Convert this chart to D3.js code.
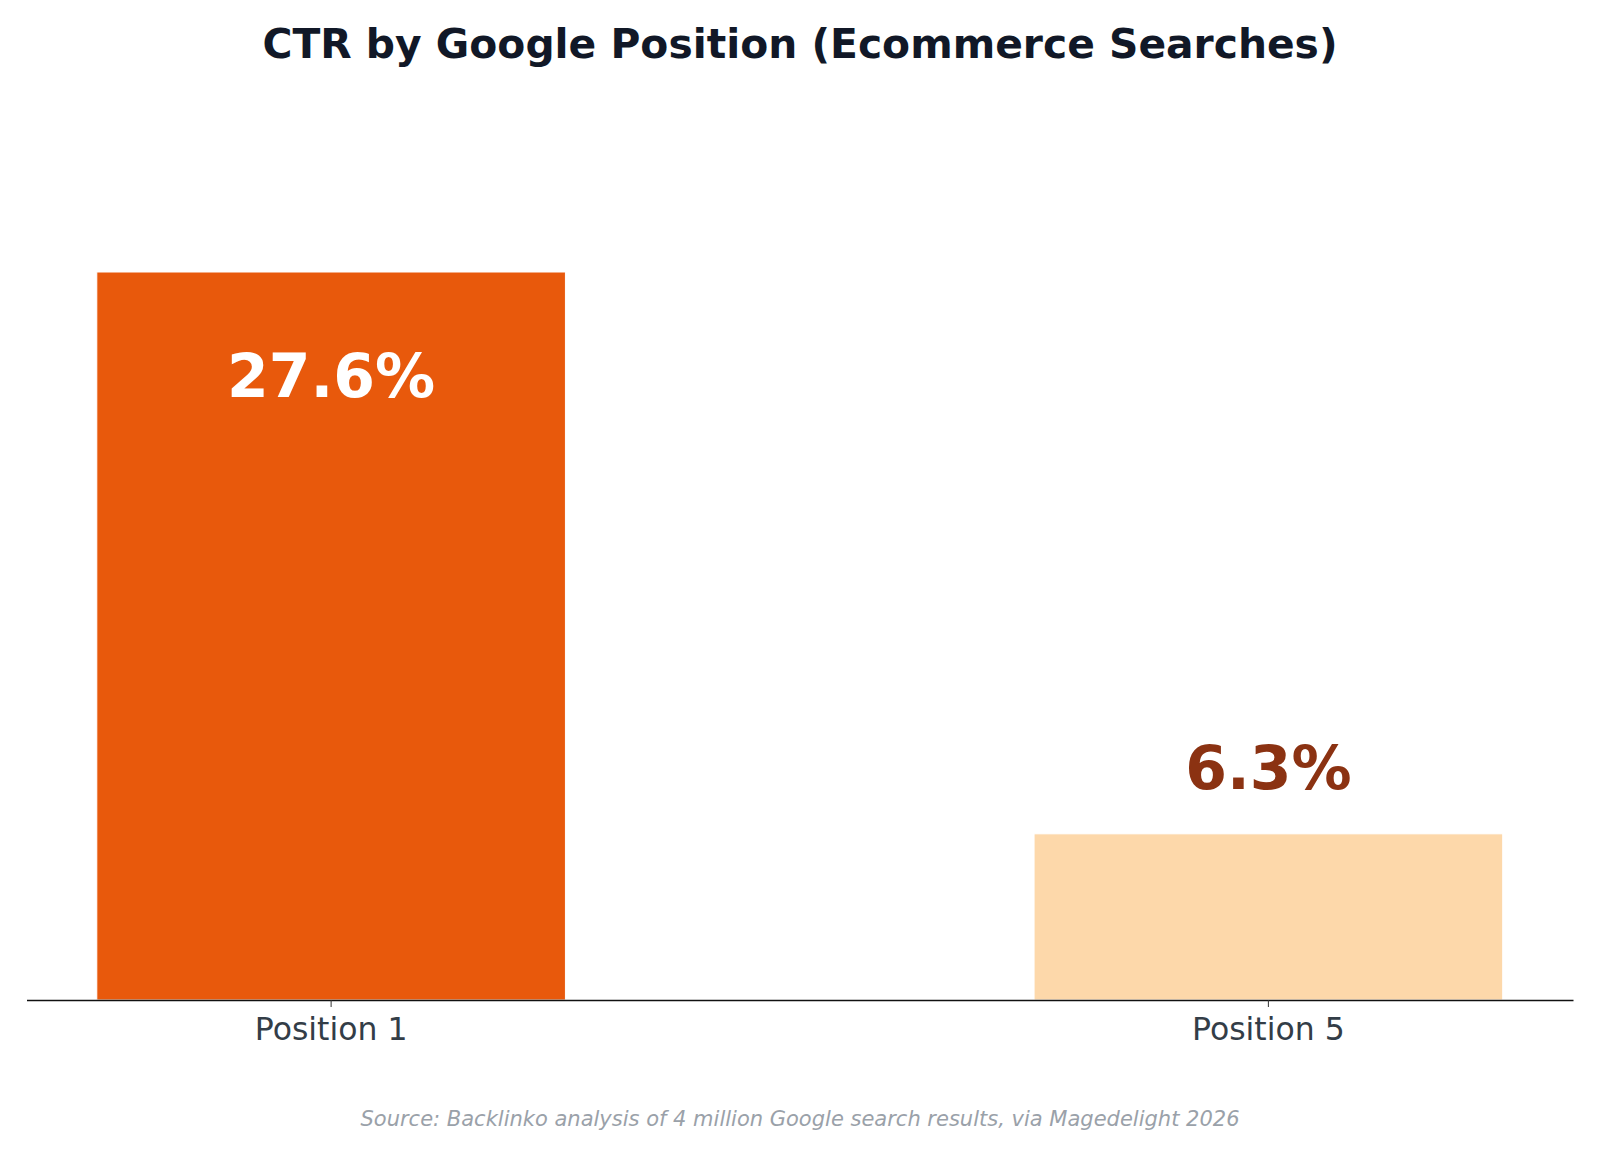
<!DOCTYPE html>
<html><head><meta charset="utf-8">
<script src="https://cdn.jsdelivr.net/npm/d3@7"></script>
<style>body{margin:0;background:#fff}svg{display:block}</style>
</head><body><svg id="c" width="1600" height="1156"></svg>
<script>
const categories = ["Position 1", "Position 5"];
const values = [27.6, 6.3];
const labels = ["27.6%", "6.3%"];
const colors = ["#E8590C", "#FDD8AA"];
const svg = d3.select("#c");
const font = "DejaVu Sans, sans-serif";
const x = d3.scaleBand().domain(categories).range([26.5, 1573]).paddingInner(0.5).paddingOuter(0.075);
const y = d3.scaleLinear().domain([0, 34.5]).range([1000, 90]);
svg.append("text").attr("x", 800).attr("y", 58).attr("text-anchor", "middle")
  .attr("font-family", font).attr("font-weight", "bold").attr("font-size", 40.8).attr("fill", "#111827")
  .text("CTR by Google Position (Ecommerce Searches)");
svg.selectAll("rect.bar").data(values).enter().append("rect")
  .attr("x", (d, i) => x(categories[i])).attr("width", x.bandwidth())
  .attr("y", d => y(d)).attr("height", d => y(0) - y(d))
  .attr("fill", (d, i) => colors[i]).attr("stroke", "#fff").attr("stroke-width", 1);
svg.selectAll("text.val").data(values).enter().append("text")
  .attr("x", (d, i) => x(categories[i]) + x.bandwidth() / 2)
  .attr("y", (d, i) => i === 0 ? y(d) + 125 : y(d) - 45)
  .attr("text-anchor", "middle").attr("font-family", font).attr("font-weight", "bold")
  .attr("font-size", 60).attr("fill", (d, i) => i === 0 ? "#fff" : "#8B3212")
  .text((d, i) => labels[i]);
const ax = svg.append("g").attr("transform", "translate(0,1000)")
  .call(d3.axisBottom(x).tickSize(7).tickPadding(11).tickSizeOuter(0));
ax.select(".domain").attr("stroke", "#111").attr("stroke-width", 1.3);
ax.selectAll(".tick line").attr("stroke", "#333");
ax.selectAll(".tick text").attr("font-family", font).attr("font-size", 31.5).attr("fill", "#333d47");
svg.append("text").attr("x", 800).attr("y", 1126).attr("text-anchor", "middle")
  .attr("font-family", font).attr("font-style", "italic").attr("font-size", 21).attr("fill", "#9aa1a9")
  .text("Source: Backlinko analysis of 4 million Google search results, via Magedelight 2026");
</script></body></html>
